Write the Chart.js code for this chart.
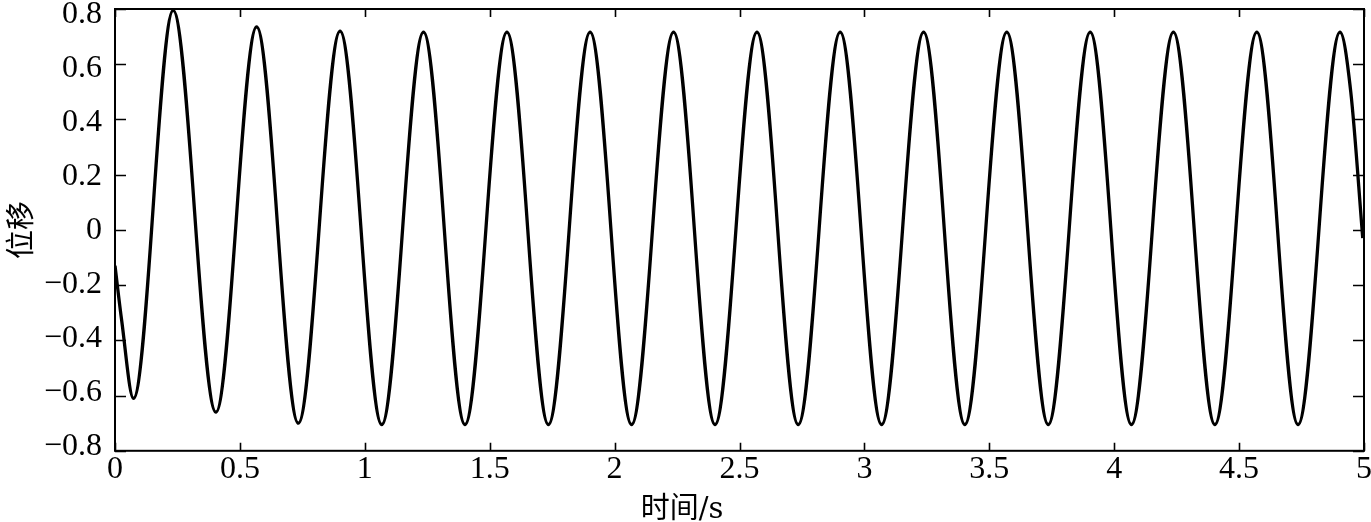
<!DOCTYPE html>
<html>
<head>
<meta charset="utf-8">
<script src="https://cdn.jsdelivr.net/npm/chart.js@4.4.1/dist/chart.umd.min.js"></script>
<style>
  html, body { margin: 0; padding: 0; background: #fff; }
  #wrap { width: 1371px; height: 522px; }
</style>
</head>
<body>
<div id="wrap"><canvas id="c" width="1371" height="522"></canvas></div>
<script>
// Values (time in s, displacement); extrema plus start/end points
const timeS = [0, 0.027, 0.074, 0.233, 0.404, 0.567, 0.734, 0.901, 1.068, 1.235, 1.401, 1.569, 1.735, 1.902, 2.068, 2.236, 2.402, 2.570, 2.735, 2.903, 3.069, 3.237, 3.402, 3.570, 3.736, 3.904, 4.069, 4.237, 4.403, 4.571, 4.736, 4.904, 4.947, 4.995];
const displacement = [-0.13, -0.33, -0.61, 0.795, -0.66, 0.735, -0.70, 0.72, -0.705, 0.716, -0.705, 0.716, -0.705, 0.716, -0.705, 0.716, -0.705, 0.716, -0.705, 0.716, -0.705, 0.716, -0.705, 0.716, -0.705, 0.716, -0.705, 0.716, -0.705, 0.716, -0.705, 0.716, 0.50, -0.03];
const xTickValues = [0, 0.5, 1, 1.5, 2, 2.5, 3, 3.5, 4, 4.5, 5];
const yTickValues = [-0.8, -0.6, -0.4, -0.2, 0, 0.2, 0.4, 0.6, 0.8];
const xTitle = '时间/s';
const yTitle = '位移';

const points = timeS.map((t, i) => ({ x: t, y: displacement[i] }));

function fmt(v) {
  const s = String(Number(v.toFixed(2)));
  return s.startsWith('-') ? '\u2212' + s.slice(1) : s;
}

const SERIF = '"Liberation Serif", "Times New Roman", serif';
const TICK_SIZE = 32;

const frameTicks = {
  id: 'frameTicks',
  afterDraw(chart) {
    const { ctx, chartArea: { left, right, top, bottom }, scales: { x, y } } = chart;
    ctx.save();
    ctx.strokeStyle = '#000';
    ctx.lineWidth = 2;
    ctx.strokeRect(left, top, right - left, bottom - top);
    ctx.lineWidth = 1.6;
    ctx.beginPath();
    x.ticks.forEach(t => {
      const px = Math.round(x.getPixelForValue(t.value)) + 0.5;
      ctx.moveTo(px, bottom); ctx.lineTo(px, bottom - 8);
      ctx.moveTo(px, top); ctx.lineTo(px, top + 8);
    });
    y.ticks.forEach(t => {
      const py = Math.round(y.getPixelForValue(t.value)) + 0.5;
      ctx.moveTo(left, py); ctx.lineTo(left + 11, py);
      ctx.moveTo(right, py); ctx.lineTo(right - 11, py);
    });
    ctx.stroke();
    // y tick labels (slightly drawn toward the middle, as in the reference)
    const mid = (top + bottom) / 2;
    ctx.fillStyle = '#000';
    ctx.font = TICK_SIZE + 'px ' + SERIF;
    ctx.textAlign = 'right';
    ctx.textBaseline = 'middle';
    y.ticks.forEach(t => {
      const py = y.getPixelForValue(t.value);
      const ly = mid + (py - mid) * 0.977;
      ctx.fillText(fmt(t.value), left - 13, ly + 1);
    });
    ctx.restore();
  }
};

new Chart(document.getElementById('c'), {
  type: 'line',
  data: {
    datasets: [{
      data: points,
      borderColor: '#000',
      borderWidth: 3.3,
      pointRadius: 0,
      fill: false,
      cubicInterpolationMode: 'monotone'
    }]
  },
  options: {
    responsive: false,
    animation: false,
    layout: { padding: { top: 9, right: 7, left: 0, bottom: 0 } },
    plugins: {
      legend: { display: false },
      tooltip: { enabled: false },
      title: {
        display: true,
        position: 'bottom',
        text: xTitle,
        color: '#000',
        font: { family: '"DejaVu Serif", "Noto Sans CJK SC", serif', size: 29, weight: 'normal', lineHeight: 0.8 },
        padding: { top: 8, bottom: 0 }
      }
    },
    scales: {
      x: {
        type: 'linear',
        min: 0, max: 5,
        afterBuildTicks: s => { s.ticks = xTickValues.map(v => ({ value: v })); },
        afterFit: s => { s.height = 40; s.paddingLeft = 0; s.paddingRight = 0; },
        grid: { display: false, drawTicks: false },
        border: { display: false },
        ticks: { color: '#000', font: { family: SERIF, size: TICK_SIZE }, padding: 0, maxRotation: 0, autoSkip: false, callback: v => fmt(v) }
      },
      y: {
        type: 'linear',
        min: -0.8, max: 0.8,
        afterBuildTicks: s => { s.ticks = yTickValues.map(v => ({ value: v })); },
        afterFit: s => { s.width = 115; s.paddingTop = 0; s.paddingBottom = 0; },
        grid: { display: false, drawTicks: false },
        border: { display: false },
        ticks: { display: false },
        title: {
          display: true,
          text: yTitle,
          color: '#000',
          font: { family: '"Noto Sans CJK SC", serif', size: 29, lineHeight: 1.2 },
          padding: { top: 3, bottom: 0 }
        }
      }
    }
  },
  plugins: [frameTicks]
});
</script>
</body>
</html>
